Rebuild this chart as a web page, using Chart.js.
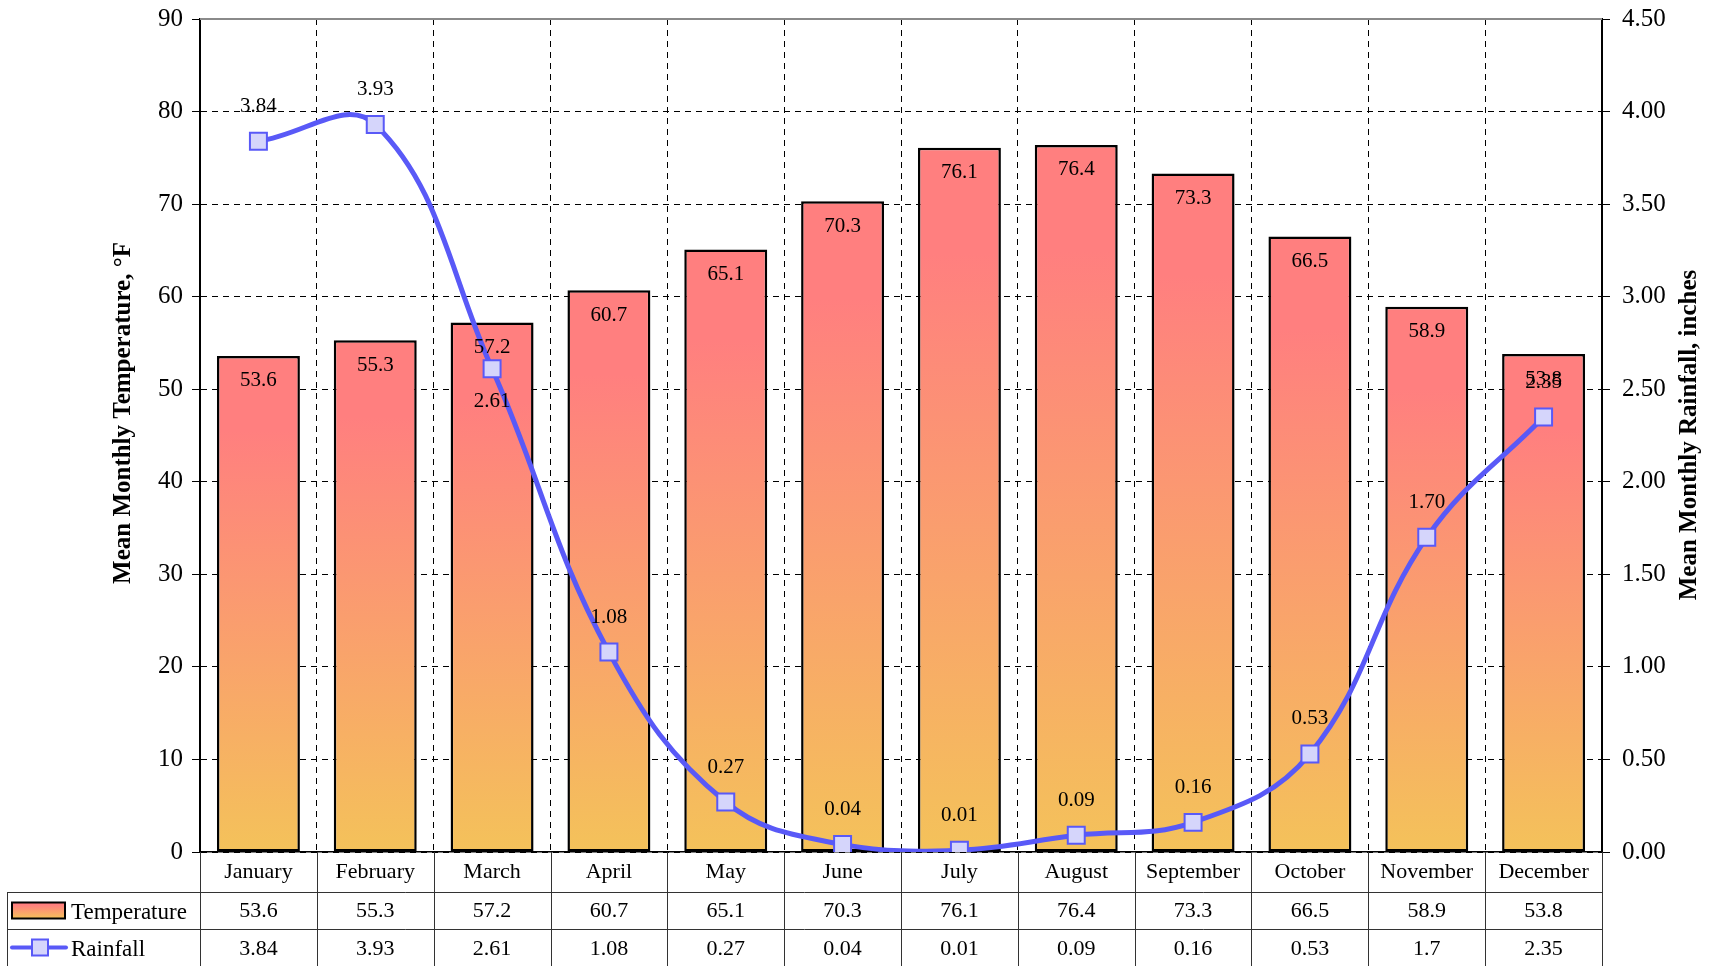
<!DOCTYPE html>
<html>
<head>
<meta charset="utf-8">
<script src="https://cdn.jsdelivr.net/npm/chart.js@4/dist/chart.umd.min.js"></script>
<style>
  html, body { margin: 0; padding: 0; background: #fff; }
  #wrap { width: 1713px; height: 966px; }
</style>
</head>
<body>
<div id="wrap"><canvas id="chart" width="1713" height="966"></canvas></div>
<script>
// data
const months = ['January', 'February', 'March', 'April', 'May', 'June', 'July', 'August', 'September', 'October', 'November', 'December'];
const temperature = [53.6, 55.3, 57.2, 60.7, 65.1, 70.3, 76.1, 76.4, 73.3, 66.5, 58.9, 53.8];
const rainfall = [3.84, 3.93, 2.61, 1.08, 0.27, 0.04, 0.01, 0.09, 0.16, 0.53, 1.7, 2.35];

// styles
const FONT = '"Liberation Serif", "Times New Roman", serif';
const barTop = '#ff7f7f';
const barBottom = '#f4c25a';
const lineColor = '#5959f7';
const pointFill = '#d5d5fb';
const rainBelow = new Set([2]); // March label sits under its marker

function barGradient(c2d, top, base) {
  const g = c2d.createLinearGradient(0, top, 0, base);
  g.addColorStop(0, barTop);
  g.addColorStop(0.15, barTop);
  g.addColorStop(1, barBottom);
  return g;
}

// value labels on bars and points
const valueLabels = {
  id: 'valueLabels',
  afterDatasetsDraw(chart) {
    const ctx = chart.ctx;
    ctx.save();
    ctx.fillStyle = '#000';
    ctx.font = '21px ' + FONT;
    ctx.textAlign = 'center';
    ctx.textBaseline = 'middle';
    // dataset 1 = bars
    chart.getDatasetMeta(1).data.forEach((el, i) => {
      ctx.fillText(temperature[i].toFixed(1), el.x, el.y + 25);
    });
    // dataset 0 = line
    chart.getDatasetMeta(0).data.forEach((el, i) => {
      const dy = rainBelow.has(i) ? 33 : -35;
      ctx.fillText(rainfall[i].toFixed(2), el.x, el.y + dy);
    });
    ctx.restore();
  }
};

// top frame line, axis titles and the data table below the plot
const dataTable = {
  id: 'dataTable',
  afterDraw(chart) {
    const { ctx, chartArea } = chart;
    const x = chart.scales.x;
    const step = x.getPixelForValue(1) - x.getPixelForValue(0);
    const left = chartArea.left, right = chartArea.right, bottom = chartArea.bottom;
    const tableLeft = 7;
    const r1 = bottom + 40, r2 = bottom + 77, r3 = chart.height;

    ctx.save();
    // top border of plot
    ctx.strokeStyle = '#8a8a8a';
    ctx.lineWidth = 2;
    ctx.beginPath();
    ctx.moveTo(left, chartArea.top);
    ctx.lineTo(right, chartArea.top);
    ctx.stroke();

    // axis titles
    ctx.fillStyle = '#000';
    ctx.font = 'bold 25px ' + FONT;
    ctx.textAlign = 'center';
    ctx.textBaseline = 'middle';
    ctx.save();
    ctx.translate(124, 413);
    ctx.rotate(-Math.PI / 2);
    ctx.fillText('Mean Monthly Temperature, °F', 0, 0);
    ctx.restore();
    ctx.save();
    ctx.translate(1690, 435);
    ctx.rotate(-Math.PI / 2);
    ctx.fillText('Mean Monthly Rainfall, inches', 0, 0);
    ctx.restore();

    // table grid
    ctx.strokeStyle = '#333';
    ctx.lineWidth = 1;
    ctx.beginPath();
    for (let i = 0; i <= months.length; i++) {
      const px = Math.round(left + i * step) + 0.5;
      ctx.moveTo(px, bottom);
      ctx.lineTo(px, r3);
    }
    ctx.moveTo(tableLeft + 0.5, r1);
    ctx.lineTo(tableLeft + 0.5, r3);
    ctx.moveTo(tableLeft, r1 + 0.5);
    ctx.lineTo(right, r1 + 0.5);
    ctx.moveTo(tableLeft, r2 + 0.5);
    ctx.lineTo(right, r2 + 0.5);
    ctx.stroke();

    // table values
    ctx.font = '22px ' + FONT;
    ctx.fillStyle = '#000';
    months.forEach((m, i) => {
      const cx = x.getPixelForValue(i);
      ctx.fillText(String(temperature[i]), cx, (r1 + r2) / 2 + 1);
      ctx.fillText(String(rainfall[i]), cx, (r2 + r3) / 2 + 2);
    });

    // legend keys
    const ty = (r1 + r2) / 2;
    ctx.fillStyle = barGradient(ctx, ty - 8, ty + 8);
    ctx.fillRect(12, ty - 8, 53, 16);
    ctx.strokeStyle = '#000';
    ctx.lineWidth = 2;
    ctx.strokeRect(12, ty - 8, 53, 16);

    const ry = (r2 + r3) / 2;
    ctx.strokeStyle = lineColor;
    ctx.lineWidth = 4;
    ctx.lineCap = 'round';
    ctx.beginPath();
    ctx.moveTo(12, ry);
    ctx.lineTo(66, ry);
    ctx.stroke();
    ctx.fillStyle = pointFill;
    ctx.lineWidth = 2;
    ctx.fillRect(32, ry - 8, 16, 16);
    ctx.strokeRect(32, ry - 8, 16, 16);

    ctx.fillStyle = '#000';
    ctx.textAlign = 'left';
    ctx.font = '23px ' + FONT;
    ctx.fillText('Temperature', 71, ty + 2);
    ctx.fillText('Rainfall', 71, ry + 2);
    ctx.restore();
  }
};

// fixed axis box sizes so the plot sits where the reference has it
function fixVertical(width) {
  return s => {
    s.width = width;
    s.paddingTop = 0;
    s.paddingBottom = 0;
  };
}

const ctx = document.getElementById('chart');

new Chart(ctx, {
  data: {
    labels: months,
    datasets: [
      {
        type: 'line',
        label: 'Rainfall',
        data: rainfall,
        yAxisID: 'y1',
        borderColor: lineColor,
        borderWidth: 5,
        tension: 0.4,
        pointStyle: 'rect',
        pointRadius: 12,
        pointBackgroundColor: pointFill,
        pointBorderColor: lineColor,
        pointBorderWidth: 2,
        order: 0
      },
      {
        type: 'bar',
        label: 'Temperature',
        data: temperature,
        yAxisID: 'y',
        borderColor: '#000',
        borderWidth: 2.5,
        borderSkipped: false,
        categoryPercentage: 1,
        barPercentage: 0.71,
        backgroundColor: c => {
          const chart = c.chart;
          if (c.type !== 'data' || !chart.chartArea) return barTop;
          const ys = chart.scales.y;
          return barGradient(chart.ctx, ys.getPixelForValue(c.raw), ys.getPixelForValue(0));
        },
        order: 1
      }
    ]
  },
  plugins: [valueLabels, dataTable],
  options: {
    responsive: false,
    animation: false,
    layout: { padding: { top: 19, left: 0, right: 0, bottom: 0 } },
    plugins: {
      legend: { display: false },
      tooltip: { enabled: false }
    },
    scales: {
      x: {
        grid: { color: '#000', lineWidth: 1, drawTicks: false, offset: true },
        border: { display: true, color: '#000', width: 1.5, dash: [6, 5] },
        ticks: { color: '#000', font: { family: FONT, size: 22 }, padding: 7, maxRotation: 0 },
        afterFit: s => { s.height = 114; s.paddingLeft = 0; s.paddingRight = 0; }
      },
      y: {
        position: 'left',
        min: 0,
        max: 90,
        ticks: { stepSize: 10, color: '#000', font: { family: FONT, size: 25 }, padding: 9 },
        grid: { color: '#000', lineWidth: 1, tickLength: 8, tickColor: '#000', tickBorderDash: [] },
        border: { display: true, color: '#000', width: 2, dash: [6, 5] },
        afterFit: fixVertical(200)
      },
      y1: {
        position: 'right',
        min: 0,
        max: 4.5,
        ticks: {
          stepSize: 0.5,
          color: '#000',
          font: { family: FONT, size: 25 },
          padding: 12,
          callback: v => Number(v).toFixed(2)
        },
        grid: { drawOnChartArea: false, color: '#000', tickLength: 8, tickColor: '#000', tickBorderDash: [] },
        border: { display: true, color: '#000', width: 2 },
        afterFit: fixVertical(111)
      }
    }
  }
});
</script>
</body>
</html>
